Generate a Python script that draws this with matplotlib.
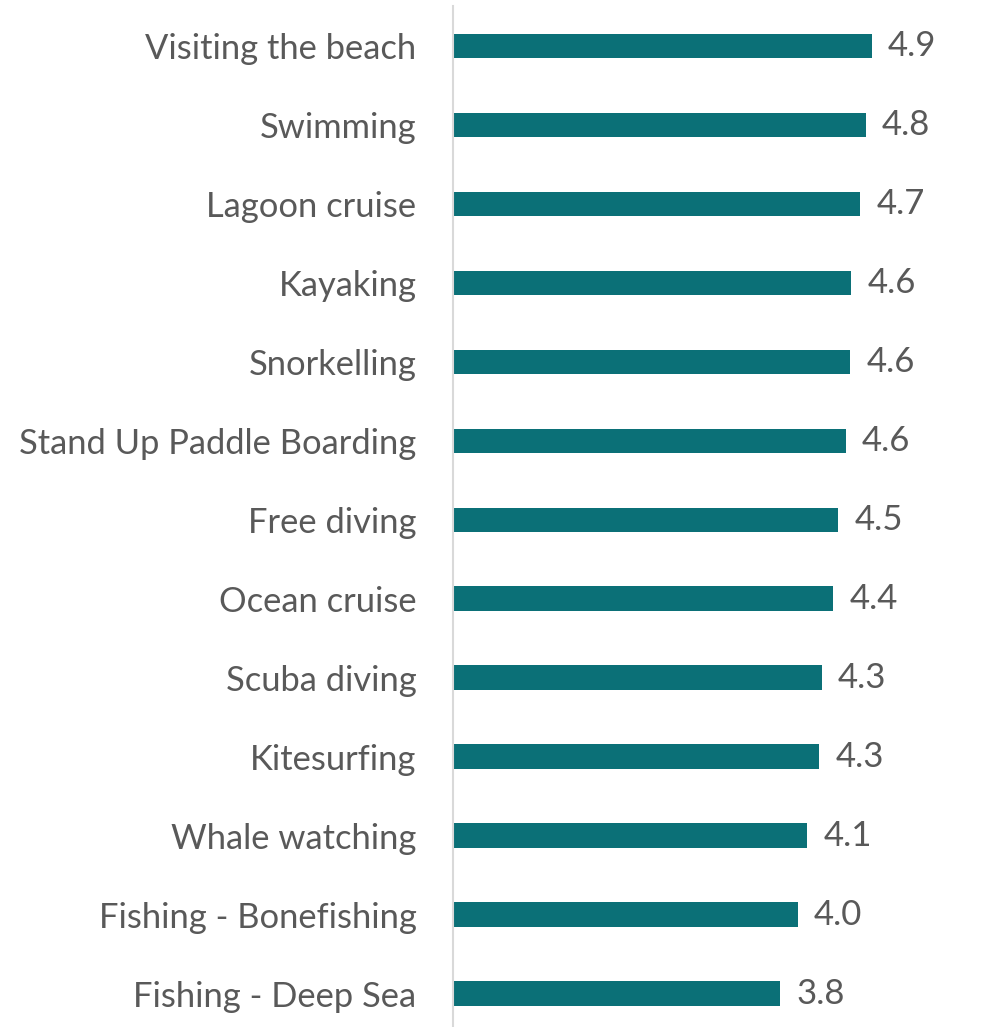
import numpy as np
import matplotlib.pyplot as plt

activities = ['Visiting the beach', 'Swimming', 'Lagoon cruise', 'Kayaking',
              'Snorkelling', 'Stand Up Paddle Boarding', 'Free diving',
              'Ocean cruise', 'Scuba diving', 'Kitesurfing', 'Whale watching',
              'Fishing - Bonefishing', 'Fishing - Deep Sea']
scores = [4.87, 4.80, 4.74, 4.63, 4.62, 4.57, 4.48, 4.42, 4.29, 4.26, 4.12, 4.01, 3.81]

plt.rcParams['font.family'] = ['Lato', 'DejaVu Sans']
text_color = '#595959'
bar_color = '#0B7077'

fig = plt.figure(figsize=(9.82, 10.27), dpi=100)
ax = fig.add_axes([452.7 / 982, -6 / 1027, 500 / 982, 1027 / 1027 - 0.5 / 1027])

y = np.arange(len(activities))
bars = ax.barh(y, scores, height=0.31, color=bar_color)
ax.set_ylim(len(activities) - 0.5, -0.5)
ax.set_xlim(0, 500 / 86)

for b, v in zip(bars, scores):
    ax.text(b.get_width() + 0.19, b.get_y() + b.get_height() / 2, f'{v:.1f}',
            va='center', ha='left', fontsize=25, color=text_color)

ax.set_yticks(y)
ax.set_yticklabels(activities, fontsize=24.8, color=text_color)
ax.tick_params(axis='y', length=0, pad=26)
ax.set_xticks([])
for s in ['top', 'right', 'bottom']:
    ax.spines[s].set_visible(False)
ax.spines['left'].set_color('#D9D9D9')
ax.spines['left'].set_linewidth(1.5)

fig.savefig('out.png', dpi=100)
